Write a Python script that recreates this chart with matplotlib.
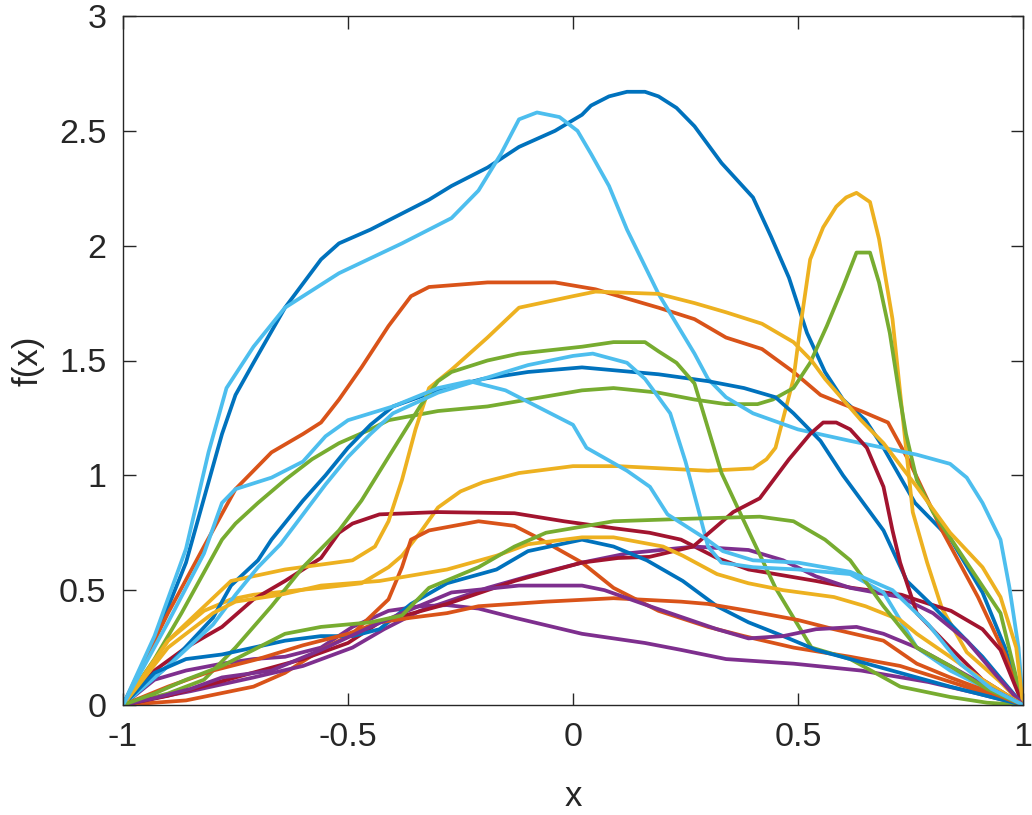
import numpy as np
import matplotlib
matplotlib.use("Agg")
import matplotlib.pyplot as plt

# MATLAB default colour order
colors = ['#0072BD', '#D95319', '#EDB120', '#7E2F8E', '#77AC30', '#4DBEEE', '#A2142F']

# curves: (x, f(x)) pairs, listed in plotting order
b1_x = [-1, -0.93, -0.86, -0.82, -0.78, -0.75, -0.71, -0.64, -0.56, -0.52, -0.45, -0.38, -0.32, -0.27, -0.19, -0.12, -0.04, 0.02, 0.04, 0.08, 0.12, 0.16, 0.19, 0.23, 0.27, 0.33, 0.4, 0.44, 0.48, 0.52, 0.56, 0.6, 0.65, 0.69, 0.76, 0.84, 0.91, 0.96, 1]
b1_y = [0, 0.28, 0.62, 0.9, 1.18, 1.35, 1.49, 1.73, 1.94, 2.01, 2.07, 2.14, 2.2, 2.26, 2.34, 2.43, 2.5, 2.57, 2.61, 2.65, 2.67, 2.67, 2.65, 2.6, 2.52, 2.36, 2.21, 2.04, 1.86, 1.62, 1.45, 1.33, 1.24, 1.12, 0.88, 0.72, 0.49, 0.25, 0]

o1_x = [-1, -0.9, -0.82, -0.75, -0.67, -0.6, -0.56, -0.52, -0.47, -0.41, -0.36, -0.32, -0.19, -0.04, 0.05, 0.12, 0.19, 0.27, 0.34, 0.42, 0.49, 0.55, 0.6, 0.64, 0.7, 0.75, 0.82, 0.9, 0.96, 1]
o1_y = [0, 0.4, 0.69, 0.94, 1.1, 1.18, 1.23, 1.33, 1.47, 1.65, 1.78, 1.82, 1.84, 1.84, 1.81, 1.77, 1.73, 1.68, 1.6, 1.55, 1.45, 1.35, 1.31, 1.28, 1.23, 1.05, 0.76, 0.47, 0.22, 0]

y1_x = [-1, -0.9, -0.82, -0.76, -0.71, -0.56, -0.47, -0.41, -0.38, -0.34, -0.3, -0.25, -0.2, -0.12, 0, 0.1, 0.2, 0.3, 0.4, 0.43, 0.45, 0.47, 0.49, 0.504, 0.527, 0.556, 0.585, 0.607, 0.63, 0.66, 0.68, 0.71, 0.727, 0.74, 0.755, 0.787, 0.82, 0.875, 0.95, 1]
y1_y = [0, 0.28, 0.41, 0.46, 0.48, 0.51, 0.53, 0.6, 0.65, 0.75, 0.86, 0.93, 0.97, 1.01, 1.04, 1.04, 1.03, 1.02, 1.03, 1.07, 1.12, 1.27, 1.42, 1.63, 1.94, 2.08, 2.17, 2.21, 2.23, 2.19, 2.03, 1.68, 1.36, 1.12, 0.84, 0.62, 0.42, 0.23, 0.1, 0]

p1_x = [-1, -0.93, -0.86, -0.78, -0.71, -0.64, -0.56, -0.49, -0.41, -0.34, -0.28, -0.21, -0.13, 0.02, 0.16, 0.24, 0.34, 0.49, 0.64, 0.79, 0.9, 1]
p1_y = [0, 0.11, 0.15, 0.18, 0.2, 0.21, 0.25, 0.34, 0.41, 0.43, 0.435, 0.42, 0.38, 0.31, 0.27, 0.24, 0.2, 0.18, 0.15, 0.1, 0.05, 0]

g1_x = [-1, -0.93, -0.87, -0.78, -0.75, -0.7, -0.64, -0.58, -0.52, -0.45, -0.41, -0.3, -0.19, -0.1, 0.02, 0.09, 0.19, 0.27, 0.34, 0.41, 0.444, 0.49, 0.527, 0.564, 0.6, 0.63, 0.66, 0.68, 0.704, 0.727, 0.74, 0.764, 0.8, 0.875, 0.95, 1]
g1_y = [0, 0.2, 0.4, 0.72, 0.79, 0.88, 0.98, 1.07, 1.14, 1.2, 1.24, 1.28, 1.3, 1.33, 1.37, 1.38, 1.36, 1.33, 1.31, 1.31, 1.33, 1.38, 1.49, 1.65, 1.82, 1.97, 1.97, 1.84, 1.62, 1.33, 1.18, 0.98, 0.84, 0.62, 0.4, 0]

l1_x = [-1, -0.93, -0.86, -0.81, -0.77, -0.71, -0.64, -0.52, -0.38, -0.27, -0.21, -0.16, -0.12, -0.08, -0.03, 0.01, 0.04, 0.08, 0.12, 0.16, 0.19, 0.23, 0.27, 0.3, 0.34, 0.4, 0.5, 0.616, 0.764, 0.838, 0.875, 0.91, 0.95, 0.97, 0.99, 1]
l1_y = [0, 0.3, 0.68, 1.1, 1.38, 1.56, 1.73, 1.88, 2.01, 2.12, 2.24, 2.4, 2.55, 2.58, 2.56, 2.5, 2.4, 2.26, 2.07, 1.91, 1.79, 1.66, 1.53, 1.42, 1.34, 1.27, 1.2, 1.15, 1.09, 1.05, 0.99, 0.88, 0.72, 0.51, 0.25, 0]

r1_x = [-1, -0.93, -0.86, -0.78, -0.71, -0.64, -0.56, -0.52, -0.49, -0.43, -0.3, -0.13, -0.02, 0.09, 0.17, 0.24, 0.32, 0.39, 0.54, 0.62, 0.73, 0.76, 0.84, 0.91, 0.95, 1]
r1_y = [0, 0.15, 0.25, 0.34, 0.46, 0.54, 0.64, 0.75, 0.79, 0.83, 0.84, 0.835, 0.8, 0.77, 0.75, 0.72, 0.64, 0.59, 0.54, 0.51, 0.48, 0.46, 0.41, 0.33, 0.24, 0]

b2_x = [-1, -0.9, -0.8, -0.76, -0.7, -0.67, -0.6, -0.55, -0.5, -0.45, -0.4, -0.3, -0.2, -0.1, 0.02, 0.19, 0.3, 0.38, 0.45, 0.49, 0.55, 0.6, 0.69, 0.742, 0.8, 0.86, 0.91, 1]
b2_y = [0, 0.17, 0.38, 0.52, 0.63, 0.72, 0.89, 1.0, 1.12, 1.22, 1.3, 1.37, 1.42, 1.45, 1.47, 1.44, 1.41, 1.38, 1.34, 1.27, 1.15, 1.0, 0.76, 0.54, 0.43, 0.31, 0.21, 0]

o2_x = [-1, -0.86, -0.71, -0.64, -0.56, -0.49, -0.41, -0.38, -0.36, -0.32, -0.21, -0.13, -0.08, 0.02, 0.09, 0.19, 0.3, 0.38, 0.49, 0.616, 0.727, 0.84, 0.92, 1]
o2_y = [0, 0.02, 0.08, 0.14, 0.24, 0.31, 0.46, 0.6, 0.72, 0.76, 0.8, 0.78, 0.73, 0.62, 0.51, 0.41, 0.34, 0.3, 0.25, 0.21, 0.17, 0.1, 0.05, 0]

y2_x = [-1, -0.9, -0.76, -0.64, -0.49, -0.44, -0.41, -0.38, -0.35, -0.32, -0.27, -0.19, -0.12, 0, 0.05, 0.19, 0.27, 0.34, 0.42, 0.49, 0.53, 0.56, 0.6, 0.64, 0.69, 0.764, 0.838, 0.91, 0.95, 0.985, 1]
y2_y = [0, 0.28, 0.54, 0.59, 0.63, 0.69, 0.8, 0.98, 1.2, 1.38, 1.46, 1.6, 1.73, 1.78, 1.8, 1.79, 1.75, 1.71, 1.66, 1.58, 1.5, 1.42, 1.33, 1.24, 1.14, 0.95, 0.75, 0.6, 0.47, 0.25, 0]

p2_x = [-1, -0.93, -0.85, -0.71, -0.6, -0.49, -0.42, -0.34, -0.25, -0.19, -0.1, 0.02, 0.12, 0.27, 0.39, 0.467, 0.54, 0.616, 0.727, 0.8, 0.875, 0.94, 1]
p2_y = [0, 0.03, 0.06, 0.12, 0.17, 0.25, 0.33, 0.41, 0.47, 0.51, 0.56, 0.62, 0.66, 0.69, 0.675, 0.63, 0.56, 0.51, 0.47, 0.4, 0.28, 0.13, 0]

g2_x = [-1, -0.9, -0.82, -0.75, -0.67, -0.6, -0.52, -0.47, -0.41, -0.34, -0.3, -0.27, -0.19, -0.12, 0.02, 0.09, 0.16, 0.19, 0.23, 0.27, 0.33, 0.38, 0.45, 0.53, 0.616, 0.727, 0.838, 0.92, 1]
g2_y = [0, 0.05, 0.11, 0.25, 0.43, 0.6, 0.76, 0.89, 1.08, 1.3, 1.41, 1.45, 1.5, 1.53, 1.56, 1.58, 1.58, 1.54, 1.49, 1.4, 1.01, 0.8, 0.51, 0.25, 0.2, 0.08, 0.035, 0.01, 0]

l2_x = [-1, -0.9, -0.8, -0.75, -0.7, -0.65, -0.6, -0.55, -0.5, -0.45, -0.4, -0.3, -0.2, -0.1, 0, 0.044, 0.12, 0.16, 0.19, 0.216, 0.25, 0.28, 0.3, 0.33, 0.4, 0.5, 0.616, 0.69, 0.727, 0.764, 0.838, 0.91, 1]
l2_y = [0, 0.17, 0.35, 0.48, 0.6, 0.7, 0.83, 0.96, 1.08, 1.18, 1.27, 1.36, 1.42, 1.48, 1.52, 1.53, 1.49, 1.42, 1.34, 1.27, 1.06, 0.84, 0.69, 0.62, 0.6, 0.59, 0.57, 0.49, 0.37, 0.25, 0.15, 0.08, 0]

r2_x = [-1, -0.9, -0.75, -0.6, -0.5, -0.43, -0.28, -0.13, 0.02, 0.1, 0.17, 0.267, 0.356, 0.415, 0.48, 0.527, 0.556, 0.585, 0.616, 0.653, 0.69, 0.71, 0.727, 0.764, 0.838, 0.91, 1]
r2_y = [0, 0.04, 0.12, 0.2, 0.27, 0.36, 0.44, 0.54, 0.62, 0.64, 0.645, 0.69, 0.84, 0.9, 1.07, 1.18, 1.23, 1.23, 1.2, 1.12, 0.95, 0.76, 0.62, 0.4, 0.25, 0.11, 0]

b3_x = [-1, -0.93, -0.86, -0.78, -0.71, -0.64, -0.56, -0.49, -0.43, -0.36, -0.28, -0.17, -0.1, 0.02, 0.09, 0.164, 0.244, 0.32, 0.39, 0.467, 0.54, 0.616, 0.727, 0.838, 1]
b3_y = [0, 0.14, 0.2, 0.22, 0.25, 0.28, 0.3, 0.3, 0.33, 0.44, 0.53, 0.59, 0.67, 0.72, 0.69, 0.63, 0.54, 0.43, 0.36, 0.3, 0.24, 0.2, 0.14, 0.08, 0]

o3_x = [-1, -0.9, -0.8, -0.7, -0.6, -0.5, -0.43, -0.36, -0.28, -0.21, -0.06, 0.09, 0.24, 0.3, 0.39, 0.5, 0.58, 0.69, 0.764, 0.838, 0.92, 1]
o3_y = [0, 0.08, 0.15, 0.2, 0.26, 0.31, 0.36, 0.38, 0.4, 0.43, 0.45, 0.465, 0.45, 0.44, 0.41, 0.37, 0.33, 0.28, 0.18, 0.12, 0.06, 0]

y3_x = [-1, -0.9, -0.8, -0.75, -0.65, -0.56, -0.43, -0.34, -0.28, -0.17, -0.1, 0.02, 0.09, 0.2, 0.244, 0.32, 0.39, 0.467, 0.58, 0.65, 0.727, 0.764, 0.838, 0.91, 1]
y3_y = [0, 0.25, 0.4, 0.45, 0.48, 0.52, 0.54, 0.57, 0.59, 0.65, 0.7, 0.73, 0.73, 0.69, 0.65, 0.57, 0.53, 0.5, 0.47, 0.43, 0.37, 0.31, 0.21, 0.11, 0]

p3_x = [-1, -0.93, -0.85, -0.78, -0.67, -0.56, -0.45, -0.38, -0.27, -0.12, 0.02, 0.07, 0.171, 0.32, 0.39, 0.467, 0.54, 0.63, 0.69, 0.727, 0.764, 0.838, 0.92, 1]
p3_y = [0, 0.03, 0.07, 0.12, 0.15, 0.24, 0.34, 0.4, 0.49, 0.52, 0.52, 0.5, 0.43, 0.33, 0.29, 0.3, 0.33, 0.34, 0.31, 0.28, 0.25, 0.17, 0.08, 0]

g3_x = [-1, -0.93, -0.86, -0.78, -0.71, -0.64, -0.56, -0.45, -0.38, -0.32, -0.21, -0.13, -0.06, 0.09, 0.24, 0.415, 0.49, 0.56, 0.616, 0.69, 0.764, 0.838, 0.92, 1]
g3_y = [0, 0.05, 0.11, 0.17, 0.24, 0.31, 0.34, 0.36, 0.39, 0.51, 0.6, 0.69, 0.75, 0.8, 0.81, 0.82, 0.8, 0.72, 0.63, 0.43, 0.25, 0.17, 0.07, 0]

l3_x = [-1, -0.9, -0.82, -0.78, -0.75, -0.67, -0.6, -0.55, -0.5, -0.4, -0.3, -0.23, -0.15, -0.08, 0, 0.03, 0.12, 0.171, 0.21, 0.298, 0.333, 0.4, 0.5, 0.616, 0.71, 0.79, 0.86, 0.93, 1]
l3_y = [0, 0.36, 0.66, 0.88, 0.94, 0.99, 1.06, 1.17, 1.24, 1.3, 1.38, 1.41, 1.37, 1.3, 1.22, 1.12, 1.02, 0.95, 0.83, 0.72, 0.67, 0.63, 0.62, 0.58, 0.5, 0.35, 0.18, 0.07, 0]

curves = [(b1_x, b1_y), (o1_x, o1_y), (y1_x, y1_y), (p1_x, p1_y), (g1_x, g1_y),
          (l1_x, l1_y), (r1_x, r1_y), (b2_x, b2_y), (o2_x, o2_y), (y2_x, y2_y),
          (p2_x, p2_y), (g2_x, g2_y), (l2_x, l2_y), (r2_x, r2_y), (b3_x, b3_y),
          (o3_x, o3_y), (y3_x, y3_y), (p3_x, p3_y), (g3_x, g3_y), (l3_x, l3_y)]

plt.rcParams['font.family'] = ['Liberation Sans', 'DejaVu Sans']

fig = plt.figure(figsize=(10.32, 8.15), dpi=100)
ax = fig.add_axes([123/1032, 110/815, 900/1032, 689/815])

for i, (cx, cy) in enumerate(curves):
    ax.plot(cx, cy, color=colors[i % 7], linewidth=2.7, solid_joinstyle='round')

ax.set_xlim(-1, 1)
ax.set_ylim(0, 3)
ax.set_xticks([-1, -0.5, 0, 0.5, 1])
ax.set_xticklabels(['-1', '-0.5', '0', '0.5', '1'])
ax.set_yticks([0, 0.5, 1, 1.5, 2, 2.5, 3])
ax.set_yticklabels(['0', '0.5', '1', '1.5', '2', '2.5', '3'])
ax.tick_params(direction='in', length=9, width=1, colors='#262626', labelsize=24.5,
               top=True, right=True, pad=12)
for s in ax.spines.values():
    s.set_color('#262626')
    s.set_linewidth(1)
ax.set_xlabel('x', fontsize=25, color='#262626', labelpad=20)
ax.set_ylabel('f(x)', fontsize=25, color='#262626', labelpad=10)

fig.savefig('out.png', dpi=100)
